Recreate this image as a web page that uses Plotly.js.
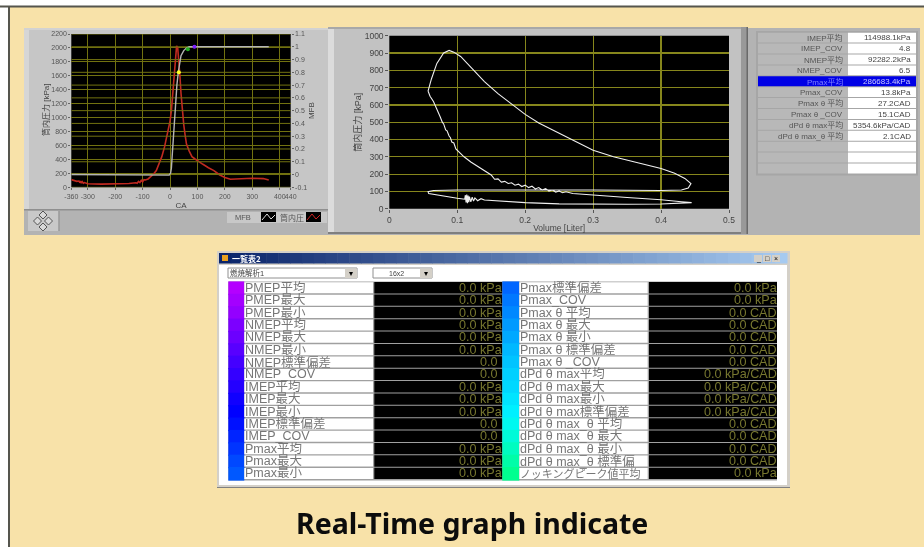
<!DOCTYPE html>
<html><head><meta charset="utf-8">
<script src="https://cdn.plot.ly/plotly-3.0.0.min.js"></script>
<style>
html,body{margin:0;padding:0;background:#fff;overflow:hidden}
#c{width:924px;height:547px}
#c .cartesianlayer,#c .layer-above,#c .g-xtitle,#c .g-ytitle,#c .g-x2title,#c .g-y2title,#c .g-y3title,#c .annotation:not(:last-of-type){filter:blur(.35px)}
</style></head><body><div id="c"></div>
<script>
// --- crank-angle chart data ---
const caPressure=[-360,-340,-332,-329,-326,-323,-320,-316,-312,-300,-250,-200,-150,-125,-120,-115,-110,-105,-100,-95,-90,-80,-60,-50,-40,-30,-20,-10,0,5,10,15,20,24,28,32,36,40,45,50,55,60,70,80,90,100,120,140,160,180,200,220,250,300,340,360];
const pressure=[110,85,90,65,88,60,80,58,68,50,45,45,55,65,58,85,68,100,78,110,105,120,190,240,330,440,580,760,950,1100,1350,1700,1950,2030,2000,1850,1600,1350,1100,900,750,620,520,440,410,380,330,280,240,180,140,115,120,130,125,105];
const caMfb=[-360,-10,-3,2,5,8,12,15,20,25,30,35,40,50,60,70,90,360];
const mfb=[0,0,-0.005,0.01,0.05,0.15,0.3,0.4,0.55,0.7,0.8,0.88,0.93,0.97,0.99,1,1,1];
const markerCa=[32,65,89];
const markerMfb=[0.8,0.98,1];
const markerColors=['#ffff20','#20b020','#8020ff'];
const caTicks=[-360,-300,-200,-100,0,100,200,300,400,440];
const pTicks=[0,200,400,600,800,1000,1200,1400,1600,1800,2000,2200];
const mfbTicks=[-0.1,0,0.1,0.2,0.3,0.4,0.5,0.6,0.7,0.8,0.9,1,1.1];
// --- P-V loop data ---
const volume=[0.057,0.062,0.07,0.08,0.088,0.095,0.105,0.12,0.14,0.16,0.18,0.2,0.22,0.25,0.28,0.3,0.33,0.36,0.4,0.42,0.435,0.444,0.44,0.43,0.4,0.3,0.2,0.1,0.065,0.057,0.058,0.075,0.1,0.111,0.112,0.113,0.114,0.115,0.116,0.117,0.118,0.12,0.122,0.124,0.126,0.13,0.135,0.14,0.16,0.2,0.25,0.3,0.35,0.4,0.44,0.445,0.43,0.4,0.35,0.3,0.27,0.26,0.255,0.25,0.245,0.24,0.235,0.23,0.225,0.22,0.215,0.21,0.205,0.2,0.195,0.19,0.185,0.18,0.175,0.17,0.165,0.16,0.155,0.15,0.14,0.13,0.12,0.11,0.1,0.098,0.095,0.092,0.09,0.088,0.085,0.083,0.08,0.078,0.075,0.07,0.065,0.06,0.057];
const cylPressure=[680,750,840,900,915,905,880,820,735,665,605,545,495,435,375,338,300,270,232,205,175,145,120,108,105,108,110,108,105,98,88,75,60,55,78,36,82,32,76,38,70,40,66,44,62,46,58,50,45,35,28,26,26,27,32,35,40,52,65,78,88,98,92,102,96,108,102,116,108,122,114,130,122,136,128,142,136,150,146,158,154,172,170,195,220,240,270,300,340,345,380,385,410,420,450,455,490,500,530,580,620,650,680];
const volTicks=[0,0.1,0.2,0.3,0.4,0.5];
const kpaTicks=[0,100,200,300,400,500,600,700,800,900,1000];
// --- summary table ---
const summaryLabels=['IMEP平均','IMEP_COV','NMEP平均','NMEP_COV','Pmax平均','Pmax_COV','Pmax θ 平均','Pmax θ _COV','dPd θ max平均','dPd θ max_θ 平均'];
const summaryValues=['114988.1kPa','4.8','92282.2kPa','6.5','286683.4kPa','13.8kPa','27.2CAD','15.1CAD','5354.6kPa/CAD','2.1CAD'];
// --- list window ---
const listLabelsL=['PMEP平均','PMEP最大','PMEP最小','NMEP平均','NMEP最大','NMEP最小','NMEP標準偏差','NMEP_COV','IMEP平均','IMEP最大','IMEP最小','IMEP標準偏差','IMEP_COV','Pmax平均','Pmax最大','Pmax最小'];
const listValuesL=['0.0 kPa','0.0 kPa','0.0 kPa','0.0 kPa','0.0 kPa','0.0 kPa','0.0','0.0','0.0 kPa','0.0 kPa','0.0 kPa','0.0','0.0','0.0 kPa','0.0 kPa','0.0 kPa'];
const listLabelsR=['Pmax標準偏差','Pmax_COV','Pmax θ 平均','Pmax θ 最大','Pmax θ 最小','Pmax θ 標準偏差','Pmax θ _COV','dPd θ max平均','dPd θ max最大','dPd θ max最小','dPd θ max標準偏差','dPd θ max_θ 平均','dPd θ max_θ 最大','dPd θ max_θ 最小','dPd θ max_θ 標準偏','ノッキングピーク値平均'];
const listValuesR=['0.0 kPa','0.0 kPa','0.0 CAD','0.0 CAD','0.0 CAD','0.0 CAD','0.0 CAD','0.0 kPa/CAD','0.0 kPa/CAD','0.0 kPa/CAD','0.0 kPa/CAD','0.0 CAD','0.0 CAD','0.0 CAD','0.0 CAD','0.0 kPa'];
const swatchL=['#b400ff','#a400ff','#9400ff','#7c00ff','#6c00ff','#5800ff','#4400ff','#3400ff','#2400ff','#1000ff','#0000ff','#0010ff','#0024ff','#0034ff','#0048ff','#0058ff'];
const swatchR=['#0066ff','#0078ff','#0088ff','#009aff','#00a8ff','#00b8ff','#00c4ff','#00d0ff','#00d8ff','#00e4ff','#00f0ff','#00f8f0','#00fad8','#00fcc0','#00fda8','#00ff90'];

const W=924,H=547;
const px=x=>x/W, py=y=>1-y/H;
const shapes=[],ann=[];
function rect(x0,y0,x1,y1,fill,line){shapes.push({type:'rect',xref:'paper',yref:'paper',layer:'below',x0:px(x0),x1:px(x1),y0:py(y1),y1:py(y0),fillcolor:fill,line:{width:line?1:0,color:line||fill}});}
function seg(x0,y0,x1,y1,color,w){shapes.push({type:'line',xref:'paper',yref:'paper',layer:'below',x0:px(x0),x1:px(x1),y0:py(y0),y1:py(y1),line:{color:color,width:w||1}});}
function text(x,y,t,size,color,anchor,font,extra){ann.push(Object.assign({xref:'paper',yref:'paper',x:px(x),y:py(y),text:t,showarrow:false,xanchor:anchor||'left',yanchor:'middle',borderpad:0,borderwidth:0,font:{size:size,color:color,family:font||'"Liberation Sans","Noto Sans CJK JP"'}},extra||{}));}

// page
rect(8,6,W,H,'#f8e2a9');
seg(0,6.5,W,6.5,'#55554d',2);
seg(9,6,9,H,'#55554d',2);
// instrument panels
rect(24,28,920,235,'#b3b3b3');
rect(24,28,328,210,'#c6c6c6');
rect(24,28,29,210,'#d6d6d6');
rect(24,28,328,30,'#d2d2d2');
rect(24,209,328,210.5,'#8f8f8f');
rect(328,27,748,234,'#c2c2c2');
rect(328,27,334,234,'#dcdcdc');
rect(328,27,748,29,'#a8a8a8');
rect(328,232,748,234,'#7f7f7f');
rect(741,27,747,234,'#999999');
rect(746.5,27,748,234,'#6a6a6a');
// plot backgrounds
rect(71.3,34,290.7,187.3,'#000');
rect(389.3,35.7,729,208.7,'#000');
// palette button & legend of the left chart
rect(28,211,59.5,231,'#c8c8c8');
seg(59,211,59,231,'#808080',1);
[[43,215],[37.5,221],[48.5,221],[43,227]].forEach(c=>shapes.push({type:'path',xref:'paper',yref:'paper',layer:'below',path:`M${px(c[0]-4)},${py(c[1])}L${px(c[0])},${py(c[1]-4)}L${px(c[0]+4)},${py(c[1])}L${px(c[0])},${py(c[1]+4)}Z`,fillcolor:'#d8d8d8',line:{color:'#555',width:1}}));
rect(227,212,327,223,'#c8c8c8');
rect(261,212,276,222,'#000');
rect(306,212,321,222,'#000');
[[262,'#dddddd'],[307,'#d02020']].forEach(l=>shapes.push({type:'path',xref:'paper',yref:'paper',layer:'below',path:`M${px(l[0])},${py(220)}L${px(l[0]+5)},${py(214)}L${px(l[0]+9)},${py(219)}L${px(l[0]+13)},${py(215)}`,line:{color:l[1],width:1}}));
text(235,217.5,'MFB',7.5,'#555');
text(280,217.5,'筒内圧',8,'#555');
text(46,110,'筒内圧力 [kPa]',8,'#444','center',null,{textangle:-90});
// summary table
const st0=32.7,sth=10.9,stRows=13;
rect(756,31,918,st0+stRows*sth+1,'#a6a6a6');
for(let i=0;i<stRows;i++){
  const y=st0+i*sth, hi=i===4;
  rect(758,y,848,y+sth-1,hi?'#0000e6':'#b8b8b8');
  rect(848,y,916,y+sth-1,hi?'#0000e6':'#ffffff');
  if(i<summaryLabels.length){
    text(843,y+5.2,summaryLabels[i],8,hi?'#7f7fff':'#555','right');
    text(911,y+5.2,summaryValues[i],8,hi?'#c8c8ff':'#444','right');
  }
}
// list window
rect(217,251,790,487.5,'#d4d0c8');
seg(217,487.5,790,487.5,'#808080',1);
const barN=48;
for(let i=0;i<barN;i++){
  const t=i/(barN-1),c=[10+156*t,36+166*t,106+134*t].map(Math.round);
  rect(219+i*(787-219)/barN,253,219+(i+1)*(787-219)/barN+.5,263.5,`rgb(${c})`);
}
rect(222,255,228,261,'#e8a020');
text(232,258.5,'一覧表2',8,'#fff','left',null,{font:{size:8,color:'#fff',family:'"Noto Sans CJK JP"',weight:700}});
[[754,'_'],[763,'□'],[772,'×']].forEach(b=>{rect(b[0],255,b[0]+8,262,'#d4d0c8');text(b[0]+4,258.5,b[1],7,'#000','center');});
rect(219,265,787,485,'#ffffff');
// dropdowns
rect(228,268,357,278,'#ffffff','#909090');
rect(345,268.5,357,278,'#d4d0c8');
text(229.5,273,'燃焼解析1',7.5,'#444');
text(351,273,'▾',8,'#000','center');
rect(373,268,432,278,'#ffffff','#909090');
rect(420,268.5,432,278,'#d4d0c8');
text(396,273,'16x2',7,'#444','center');
text(426,273,'▾',8,'#000','center');
// list rows
const lt0=282,lth=12.375,cols=[
 {sw:228.3,lab:244.3,val:374.3,end:502.3,right:501.5,labels:listLabelsL,values:listValuesL,colors:swatchL},
 {sw:502.3,lab:519.3,val:649,end:777,right:776.5,labels:listLabelsR,values:listValuesR,colors:swatchR}];
rect(228.3,281.5,777,480.5,'#a0a0a0');
cols.forEach(k=>{for(let i=0;i<16;i++){
  const y=lt0+i*lth;
  rect(k.sw,y-.6,k.lab,y+lth+.6,k.colors[i]);
  rect(k.lab,y+.3,k.val-1.3,y+lth-1.1,'#ffffff');
  rect(k.val,y,k.end,y+lth-1,'#000');
  text(k.lab+.5,y+5.8,k.labels[i],i===15&&k===cols[1]?11:12.5,'#777','left','"Liberation Sans","Noto Sans CJK JP"');
  const plain=k.values[i]==='0.0';
  text(plain?k.right-4:k.right,y+5.8,k.values[i],12.6,'#77772f','right');
}});
// caption (kept last so it stays sharp)
text(472,522.5,'Real-Time graph indicate',28.5,'#0c0c0c','center','"Noto Sans"',{font:{size:28.5,color:'#0c0c0c',family:'"Noto Sans"',weight:700}});

const grid='#727210';
const axLeft={tickfont:{size:7,color:'#555',family:'"Liberation Sans"'},ticks:'outside',ticklen:2,tickcolor:'#666',tickangle:0,showline:false,zeroline:false,gridcolor:grid,gridwidth:1};
const axMid={tickfont:{size:8.5,color:'#444',family:'"Liberation Sans"'},ticks:'outside',ticklen:3,tickcolor:'#555',tickangle:0,showline:false,zeroline:false,gridcolor:'#86861c',gridwidth:1.2};
const titleFont={size:8,color:'#444',family:'"Liberation Sans","Noto Sans CJK JP"'};
const layout={width:W,height:H,margin:{l:0,r:0,t:0,b:0},autosize:false,showlegend:false,
 paper_bgcolor:'rgba(0,0,0,0)',plot_bgcolor:'rgba(0,0,0,0)',shapes:shapes,annotations:ann,
 xaxis:Object.assign({},axLeft,{domain:[px(71.3),px(290.7)],range:[-360,440],tickvals:caTicks,ticktext:caTicks.map(String),anchor:'y',title:{text:'CA',font:titleFont,standoff:3}}),
 yaxis:Object.assign({},axLeft,{domain:[py(187.3),py(34)],range:[0,2200],tickvals:pTicks,ticktext:pTicks.map(String),anchor:'x'}),
 yaxis2:Object.assign({},axLeft,{domain:[py(187.3),py(34)],range:[-0.1,1.1],tickvals:mfbTicks,ticktext:mfbTicks.map(String),overlaying:'y',side:'right',anchor:'x',showgrid:false,title:{text:'MFB',font:titleFont,standoff:2}}),
 xaxis2:Object.assign({},axMid,{domain:[px(389.3),px(729)],range:[0,0.5],tickvals:volTicks,ticktext:volTicks.map(String),anchor:'y3',title:{text:'Volume [Liter]',font:{size:8.5,color:'#444',family:'"Liberation Sans"'},standoff:1}}),
 yaxis3:Object.assign({},axMid,{domain:[py(208.7),py(35.7)],range:[0,1000],tickvals:kpaTicks,ticktext:kpaTicks.map(String),anchor:'x2',title:{text:'筒内圧力 [kPa]',font:{size:9,color:'#444',family:'"Liberation Sans","Noto Sans CJK JP"'},standoff:1}})
};
// the overlaid MFB axis draws no gridlines of its own, so they come from a gap-separated line trace
const mfbGridX=mfbTicks.flatMap(()=>[-360,440,null]);
const mfbGridY=mfbTicks.flatMap(v=>[v,v,null]);
const traces=[
 {type:'scatter',mode:'lines',x:caPressure,y:pressure,xaxis:'x',yaxis:'y',line:{color:'#c02a20',width:1.6},hoverinfo:'skip'},
 {type:'scatter',mode:'lines',x:mfbGridX,y:mfbGridY,xaxis:'x',yaxis:'y2',line:{color:grid,width:1},connectgaps:false,hoverinfo:'skip'},
 {type:'scatter',mode:'lines',x:caMfb,y:mfb,xaxis:'x',yaxis:'y2',line:{color:'#b4b4b4',width:1.4},hoverinfo:'skip'},
 {type:'scatter',mode:'markers',x:markerCa,y:markerMfb,xaxis:'x',yaxis:'y2',marker:{size:4,color:markerColors},hoverinfo:'skip'},
 {type:'scatter',mode:'lines',x:volume,y:cylPressure,xaxis:'x2',yaxis:'y3',line:{color:'#f0f0f0',width:1.1},hoverinfo:'skip'}
];
Plotly.newPlot('c',traces,layout,{displayModeBar:false,staticPlot:true});
</script></body></html>
